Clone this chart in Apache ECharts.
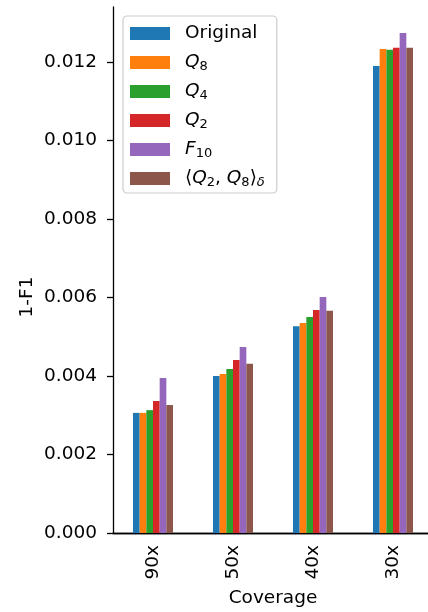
<!DOCTYPE html>
<html>
<head>
<meta charset="utf-8">
<script src="https://cdn.jsdelivr.net/npm/echarts@6/dist/echarts.min.js"></script>
<style>html,body{margin:0;padding:0;background:#fff}#c{width:428px;height:612px}</style>
</head>
<body>
<div id="c"></div>
<script>
const categories = ['90x', '50x', '40x', '30x'];
const seriesNames = ['Original', 'Q8', 'Q4', 'Q2', 'F10', 'Q2Q8d'];
const original = [0.00306, 0.00400, 0.00527, 0.01190];
const q8 = [0.00306, 0.00405, 0.00535, 0.01233];
const q4 = [0.00313, 0.00418, 0.00550, 0.01231];
const q2 = [0.00336, 0.00441, 0.00568, 0.01236];
const f10 = [0.00395, 0.00474, 0.00601, 0.01274];
const q2q8d = [0.00326, 0.00431, 0.00566, 0.01236];
const yTicks = [0, 0.002, 0.004, 0.006, 0.008, 0.010, 0.012];
const colors = ['#1f77b4', '#ff7f0e', '#2ca02c', '#d62728', '#9467bd', '#8c564b'];

const allData = [original, q8, q4, q2, f10, q2q8d];
const legendLabels = {
  'Original': 'Original',
  'Q8': '{it|Q}{sub|8}',
  'Q4': '{it|Q}{sub|4}',
  'Q2': '{it|Q}{sub|2}',
  'F10': '{it|F}{sub|10}',
  'Q2Q8d': '⟨{it|Q}{sub|2}, {it|Q}{sub|8}⟩{subi|δ}'
};
const FS = 18.5;
const FONT = 'DejaVu Sans';
const chart = echarts.init(document.getElementById('c'), null, {renderer: 'canvas'});
chart.setOption({
  animation: false,
  backgroundColor: '#fff',
  color: colors,
  grid: {left: 113, top: 7, width: 320, height: 526, outerBoundsMode: 'none', containLabel: false, show: false},
  legend: {
    orient: 'vertical', left: 123, top: 16,
    padding: [7, 12, 4, 7],
    itemWidth: 40, itemHeight: 13, itemGap: 8,
    icon: 'rect',
    backgroundColor: 'rgba(255,255,255,0.85)',
    borderColor: '#cccccc', borderWidth: 1.2, borderRadius: 4,
    data: seriesNames,
    formatter: n => legendLabels[n],
    textStyle: {
      fontFamily: FONT, fontSize: FS, color: '#000', lineHeight: 21, padding: [0, 0, 0, 10],
      rich: {
        it: {fontFamily: FONT, fontSize: FS, fontStyle: 'italic', lineHeight: 21, verticalAlign: 'middle'},
        sub: {fontFamily: FONT, fontSize: 13, lineHeight: 12, verticalAlign: 'bottom'},
        subi: {fontFamily: FONT, fontSize: 13, fontStyle: 'italic', lineHeight: 12, verticalAlign: 'bottom'}
      }
    }
  },
  xAxis: [{
    type: 'category', data: categories,
    name: 'Coverage', nameLocation: 'middle', nameGap: 56,
    nameTextStyle: {fontFamily: FONT, fontSize: FS, color: '#000'},
    axisLine: {lineStyle: {color: '#000', width: 1.3}},
    axisTick: {alignWithLabel: true, length: 6, lineStyle: {color: '#000', width: 1.3}},
    axisLabel: {rotate: 90, margin: 12, fontFamily: FONT, fontSize: FS, color: '#000'},
    splitLine: {show: false}
  }, {
    type: 'category', data: categories, position: 'top',
    axisLine: {show: true, lineStyle: {color: '#000', width: 1.3}},
    axisTick: {show: false}, axisLabel: {show: false}, splitLine: {show: false}
  }],
  yAxis: [{
    type: 'value', min: 0, max: 0.0134, position: 'left',
    axisLine: {show: true, lineStyle: {color: '#000', width: 1.3}},
    axisTick: {show: true, length: 6, customValues: yTicks, lineStyle: {color: '#000', width: 1.3}},
    axisLabel: {margin: 16, customValues: yTicks, fontFamily: FONT, fontSize: FS, color: '#000', formatter: v => v.toFixed(3)},
    splitLine: {show: false}
  }, {
    type: 'value', min: 0, max: 0.0134, position: 'left', offset: 0,
    name: '1-F1', nameLocation: 'middle', nameGap: 76,
    nameTextStyle: {fontFamily: FONT, fontSize: FS, color: '#000', padding: [0, 54, 0, 0]},
    axisLine: {show: false}, axisTick: {show: false}, axisLabel: {show: false}, splitLine: {show: false}
  }],
  series: seriesNames.map((n, i) => ({
    name: n, type: 'bar', data: allData[i], xAxisIndex: 0, yAxisIndex: 0,
    barGap: '0%', barCategoryGap: '50%',
    itemStyle: {color: colors[i]}
  }))
});
</script>
</body>
</html>
